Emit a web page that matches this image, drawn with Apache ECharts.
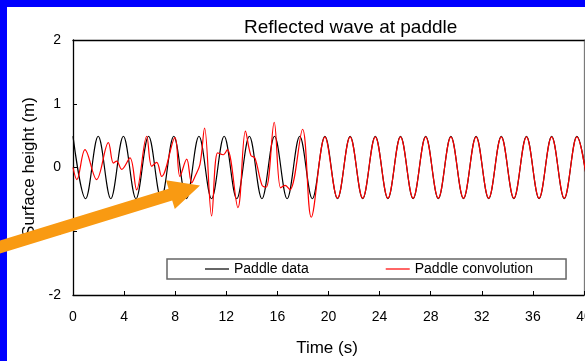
<!DOCTYPE html>
<html>
<head>
<meta charset="utf-8">
<script src="https://cdn.jsdelivr.net/npm/echarts@6/dist/echarts.min.js"></script>
<style>
html,body{margin:0;padding:0;}
#wrap{position:relative;width:585px;height:361px;background:#0000FF;overflow:hidden;}
#white{position:absolute;left:7px;top:7px;right:0;bottom:0;background:#fff;}
#chart{position:absolute;left:0;top:0;width:585px;height:361px;}
</style>
</head>
<body>
<div id="wrap"><div id="white"></div><div id="chart"></div></div>
<script>
// ---- data ----
const titleText = 'Reflected wave at paddle';
const xName = 'Time (s)';
const yName = 'Surface height (m)';
const seriesNames = ['Paddle data', 'Paddle convolution'];
const xTicks = [0, 4, 8, 12, 16, 20, 24, 28, 32, 36, 40];
const yTicks = [-2, -1, 0, 1, 2];

// Paddle data: crests / troughs (time s, height m)
const paddleTime = [0, 0.986, 1.972, 2.958, 3.944, 4.930, 5.916, 6.902, 7.888, 8.874,
  9.860, 10.846, 11.832, 12.818, 13.804, 14.790, 15.776, 16.762, 17.748, 18.734,
  19.720, 20.706, 21.692, 22.678, 23.664, 24.650, 25.636, 26.622, 27.608, 28.594,
  29.580, 30.566, 31.552, 32.538, 33.524, 34.510, 35.496, 36.482, 37.468, 38.454,
  39.440, 40.426];
const paddleValue = [0.49, -0.49, 0.49, -0.49, 0.49, -0.49, 0.49, -0.49, 0.49, -0.49,
  0.49, -0.49, 0.49, -0.49, 0.49, -0.49, 0.49, -0.49, 0.49, -0.49,
  0.49, -0.49, 0.49, -0.49, 0.49, -0.49, 0.49, -0.49, 0.49, -0.49,
  0.49, -0.49, 0.49, -0.49, 0.49, -0.49, 0.49, -0.49, 0.49, -0.49,
  0.49, -0.49];

// Paddle convolution: turning points (time s, height m)
const convTime = [0, 0.30, 0.94, 1.85, 2.77, 3.16, 3.42, 3.81, 4.46, 4.98,
  5.77, 6.16, 6.55, 6.94, 7.98, 8.37, 8.90, 9.29, 9.55, 9.94,
  10.30, 10.85, 11.32, 11.76, 12.08, 12.91, 13.50, 13.92, 14.24, 14.80,
  15.12, 15.75, 16.25, 16.60, 16.98, 17.97, 18.65,
  19.720, 20.706, 21.692, 22.678, 23.664, 24.650, 25.636, 26.622, 27.608, 28.594,
  29.580, 30.566, 31.552, 32.538, 33.524, 34.510, 35.496, 36.482, 37.468, 38.454,
  39.440, 40.426];
const convValue = [0.00, -0.19, 0.28, -0.19, 0.39, 0.07, 0.10, -0.03, 0.15, -0.35,
  0.49, 0.02, 0.08, -0.14, 0.47, -0.14, 0.13, -0.24, -0.14, 0.05,
  0.62, -0.76, 0.23, 0.20, 0.28, -0.63, 0.57, 0.19, 0.15, -0.28,
  -0.31, 0.71, -0.32, -0.28, -0.35, 0.60, -0.78,
  0.48, -0.48, 0.48, -0.48, 0.48, -0.48, 0.48, -0.48, 0.48, -0.48,
  0.48, -0.48, 0.48, -0.48, 0.48, -0.48, 0.48, -0.48, 0.48, -0.48,
  0.48, -0.48];

// ---- chart ----
const FONT = '"Liberation Sans", Arial, sans-serif';
const pair = (t, v) => t.map((x, i) => [x, v[i]]);
const chart = echarts.init(document.getElementById('chart'), null, {renderer: 'canvas'});

const xMin = xTicks[0], xMax = xTicks[xTicks.length - 1];
const yMin = yTicks[0], yMax = yTicks[yTicks.length - 1];
const lineIcon = 'path://M0,0 L24,0 L24,1.2 L0,1.2 Z';

chart.setOption({
  animation: false,
  backgroundColor: 'transparent',
  textStyle: {fontFamily: FONT},
  title: {
    text: titleText, left: 239, top: 13,
    textStyle: {fontSize: 19, fontWeight: 'normal', color: '#000', fontFamily: FONT}
  },
  grid: {left: 73, right: 1, top: 40, bottom: 66, containLabel: false, outerBoundsMode: 'none'},
  legend: {
    data: [{name: seriesNames[0], icon: lineIcon}, {name: seriesNames[1], icon: lineIcon}],
    left: 167, top: 259,
    padding: [3, 33, 3, 38], itemWidth: 24, itemHeight: 14, itemGap: 77,
    symbolKeepAspect: true,
    borderColor: '#666', borderWidth: 1.5, backgroundColor: '#fff',
    textStyle: {fontSize: 14, color: '#000', fontFamily: FONT}
  },
  xAxis: [{
    type: 'value', min: xMin, max: xMax, interval: 4, position: 'bottom',
    axisLine: {show: true, onZero: false, lineStyle: {color: '#000', width: 1.3}},
    axisTick: {show: true, inside: true, length: 4, lineStyle: {color: '#000'}},
    axisLabel: {fontSize: 14, color: '#000', margin: 15, fontFamily: FONT},
    splitLine: {show: false}
  }, {
    type: 'value', min: xMin, max: xMax, position: 'top',
    axisLine: {show: true, onZero: false, lineStyle: {color: '#000', width: 1.3}},
    axisTick: {show: false}, axisLabel: {show: false}, splitLine: {show: false}
  }],
  yAxis: [{
    type: 'value', min: yMin, max: yMax, interval: 1, position: 'left',
    axisLine: {show: true, onZero: false, lineStyle: {color: '#000', width: 1.3}},
    axisTick: {show: true, inside: true, length: 4, lineStyle: {color: '#000'}},
    axisLabel: {fontSize: 14, color: '#000', margin: 12, fontFamily: FONT},
    splitLine: {show: false}
  }, {
    type: 'value', min: yMin, max: yMax, position: 'right',
    axisLine: {show: true, onZero: false, lineStyle: {color: '#7a7a7a', width: 1.3}},
    axisTick: {show: false}, axisLabel: {show: false}, splitLine: {show: false}
  }],
  series: [{
    name: seriesNames[0], type: 'line', data: pair(paddleTime, paddleValue),
    smooth: 0.36, symbol: 'none', clip: true,
    lineStyle: {color: '#000', width: 1.2}, itemStyle: {color: '#000'}, z: 3
  }, {
    name: seriesNames[1], type: 'line', data: pair(convTime, convValue),
    smooth: 0.36, symbol: 'none', clip: true,
    lineStyle: {color: '#ff0000', width: 1.2}, itemStyle: {color: '#ff0000'}, z: 4
  }],
  graphic: [{
    type: 'text', x: 29, y: 167, rotation: Math.PI / 2,
    style: {text: yName, x: 0, y: 0, textAlign: 'center', textVerticalAlign: 'middle',
      align: 'center', verticalAlign: 'middle',
      font: '17px ' + FONT, fill: '#000'}
  }, {
    type: 'text', x: 327, y: 348.5,
    style: {text: xName, x: 0, y: 0, textAlign: 'center', textVerticalAlign: 'middle',
      align: 'center', verticalAlign: 'middle',
      font: '17px ' + FONT, fill: '#000'}
  }, {
    type: 'polygon', z: 100,
    shape: {points: [[-11.8, 244.1], [168.6, 188.7], [166, 180.3], [200, 185.5],
      [174.8, 208.9], [172.2, 200.5], [-8.2, 255.9]]},
    style: {fill: '#F99A12'}
  }]
});
</script>
</body>
</html>
